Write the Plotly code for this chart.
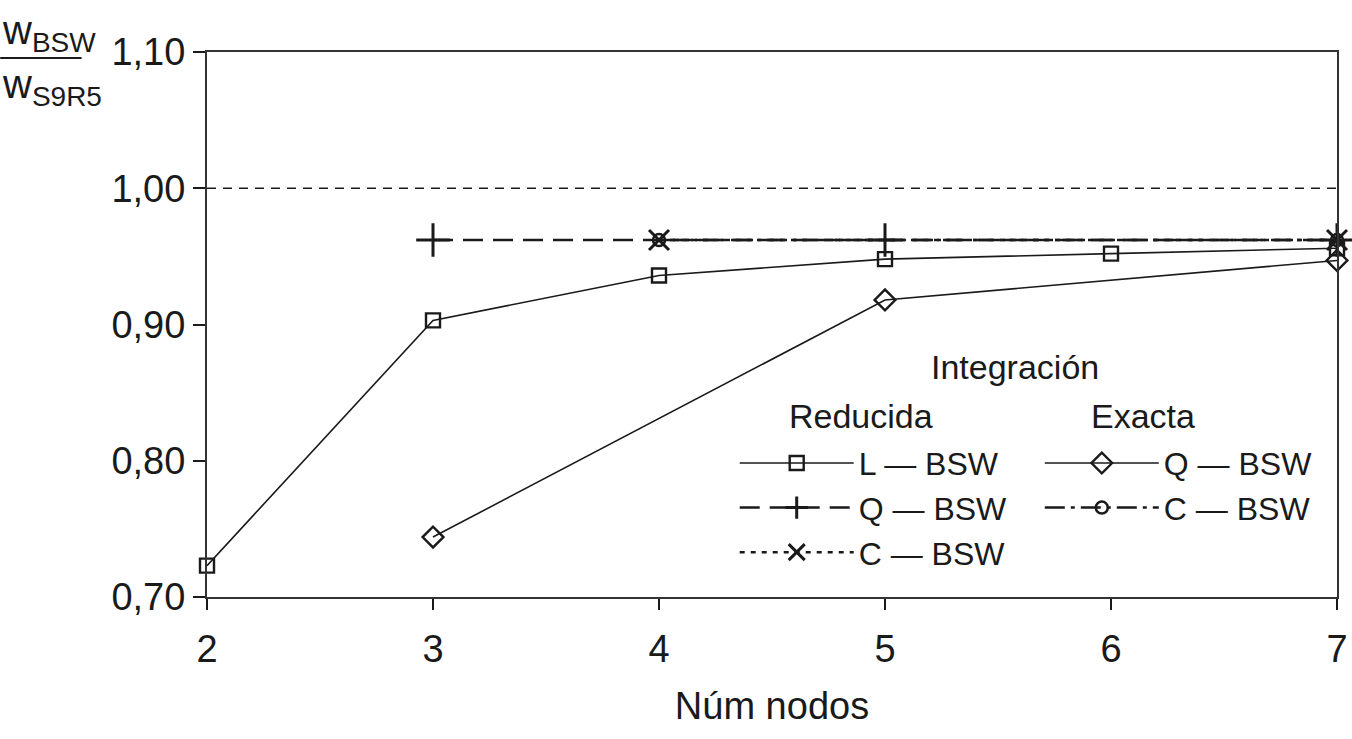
import plotly.graph_objects as go

# Data
x_l_red = [2, 3, 4, 5, 6, 7]
y_l_red = [0.723, 0.903, 0.936, 0.948, 0.952, 0.956]

x_q_red = [3, 5, 7]
y_q_red = [0.962, 0.962, 0.962]

x_c_red = [4, 7]
y_c_red = [0.962, 0.962]

x_q_ex = [3, 5, 7]
y_q_ex = [0.744, 0.918, 0.947]

x_c_ex = [4, 7]
y_c_ex = [0.962, 0.962]

ref_x = [2, 7]
ref_y = [1.0, 1.0]

y_ticks = [0.70, 0.80, 0.90, 1.00, 1.10]
x_ticks = [2, 3, 4, 5, 6, 7]

FONT = "Liberation Sans, Arial, sans-serif"
INK = "#1a1a1a"

fig = go.Figure()

fig.add_trace(go.Scatter(x=ref_x, y=ref_y, mode="lines", showlegend=False,
                         line=dict(color=INK, width=1.5, dash="9px,7px"), hoverinfo="skip"))

fig.add_trace(go.Scatter(x=x_c_red, y=y_c_red, mode="lines+markers", name="C — BSW",
                         legend="legend", legendrank=3, cliponaxis=False,
                         line=dict(color=INK, width=2.5, dash="5px,6px"),
                         marker=dict(symbol="x-thin", size=20, color=INK,
                                     line=dict(color=INK, width=3))))

fig.add_trace(go.Scatter(x=x_c_ex, y=y_c_ex, mode="lines+markers", name="C — BSW",
                         legend="legend2", legendrank=2, cliponaxis=False,
                         line=dict(color=INK, width=2.5, dash="20px,6px,4px,6px"),
                         marker=dict(symbol="circle-open", size=12, color=INK,
                                     line=dict(color=INK, width=2.5))))

fig.add_trace(go.Scatter(x=x_q_red, y=y_q_red, mode="lines+markers", name="Q — BSW",
                         legend="legend", legendrank=2, cliponaxis=False,
                         line=dict(color=INK, width=2.5, dash="20px,10px"),
                         marker=dict(symbol="cross-thin", size=24, color=INK,
                                     line=dict(color=INK, width=3))))

fig.add_trace(go.Scatter(x=x_l_red, y=y_l_red, mode="lines+markers", name="L — BSW",
                         legend="legend", legendrank=1, cliponaxis=False,
                         line=dict(color=INK, width=1.6),
                         marker=dict(symbol="square-open", size=14, color=INK,
                                     line=dict(color=INK, width=2.4))))

fig.add_trace(go.Scatter(x=x_q_ex, y=y_q_ex, mode="lines+markers", name="Q — BSW",
                         legend="legend2", legendrank=1, cliponaxis=False,
                         line=dict(color=INK, width=1.6),
                         marker=dict(symbol="diamond-open", size=16, color=INK,
                                     line=dict(color=INK, width=2.4))))

legend_common = dict(
    font=dict(family=FONT, size=32, color=INK),
    bgcolor="rgba(0,0,0,0)",
    itemwidth=114,
    tracegroupgap=0,
    xanchor="left", yanchor="top",
)

fig.update_layout(
    autosize=False,
    width=1352, height=739,
    margin=dict(l=207, r=15, t=52, b=142, autoexpand=False),
    paper_bgcolor="white", plot_bgcolor="white",
    separators=",.",
    font=dict(family=FONT, size=38, color=INK),
    xaxis=dict(range=[2, 7], tickvals=x_ticks, ticks="outside", ticklen=11, tickwidth=1.5,
               tickcolor=INK, showline=True, linecolor="#333", linewidth=2, mirror=True,
               showgrid=False, zeroline=False, tickfont=dict(size=38), ticklabelstandoff=6,
               automargin=False,
               title=dict(text="Núm nodos", font=dict(size=38), standoff=24)),
    yaxis=dict(range=[0.70, 1.10], tickvals=y_ticks, tickformat=".2f", ticks="outside",
               ticklen=12, tickwidth=1.5, tickcolor=INK, showline=True, linecolor="#333",
               linewidth=2, mirror=True, showgrid=False, zeroline=False, automargin=False,
               tickfont=dict(size=38)),
    legend=dict(x=0.467, y=0.296, **legend_common),
    legend2=dict(x=0.737, y=0.296, **legend_common),
)

fig.add_annotation(text="Integración", xref="paper", yref="paper", x=0.715, y=0.422,
                   showarrow=False, xanchor="center", yanchor="middle",
                   font=dict(family=FONT, size=34, color=INK))
fig.add_annotation(text="Reducida", xref="paper", yref="paper", x=0.579, y=0.333,
                   showarrow=False, xanchor="center", yanchor="middle",
                   font=dict(family=FONT, size=34, color=INK))
fig.add_annotation(text="Exacta", xref="paper", yref="paper", x=0.828, y=0.333,
                   showarrow=False, xanchor="center", yanchor="middle",
                   font=dict(family=FONT, size=34, color=INK))

# Y-axis title as fraction
fig.add_annotation(text="w<sub>BSW</sub>", xref="paper", yref="paper",
                   x=-0.183, y=1.0 - 6 / 545, xanchor="left", yanchor="bottom", yshift=-2,
                   showarrow=False, font=dict(family=FONT, size=40, color=INK))
fig.add_annotation(text="w<sub>S9R5</sub>", xref="paper", yref="paper",
                   x=-0.183, y=1.0 - 6 / 545, xanchor="left", yanchor="top", yshift=-2,
                   showarrow=False, font=dict(family=FONT, size=40, color=INK))
fig.add_shape(type="line", xref="paper", yref="paper", x0=-0.183, x1=-0.111,
              y0=1.0 - 6 / 545, y1=1.0 - 6 / 545, line=dict(color=INK, width=2))

fig.write_html("out.html", config={"displayModeBar": False},
               post_script="document.body.style.margin='0';")
